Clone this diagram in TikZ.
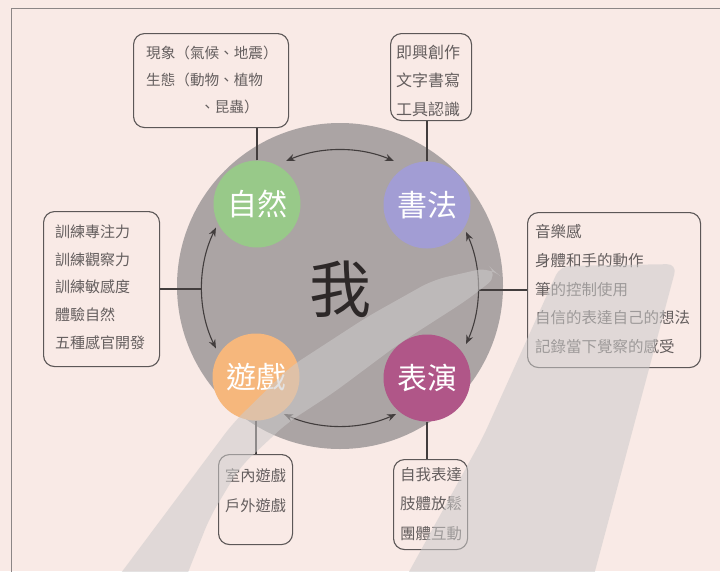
\documentclass[tikz,border=0pt]{standalone}
\usepackage{fontspec}
\newfontfamily\cjk{Noto Sans CJK TC}
\usetikzlibrary{arrows.meta}
\definecolor{bgpink}{RGB}{249,234,230}
\definecolor{biggray}{RGB}{171,164,164}
\definecolor{zrgreen}{RGB}{152,201,137}
\definecolor{sflav}{RGB}{162,157,212}
\definecolor{yxorange}{RGB}{246,183,124}
\definecolor{bymag}{RGB}{176,86,136}
\definecolor{boxline}{RGB}{92,87,87}
\definecolor{boxtext}{RGB}{100,94,94}
\definecolor{wmgray}{RGB}{205,203,203}
\definecolor{framegray}{RGB}{140,134,134}
\definecolor{darkink}{RGB}{45,40,40}
\begin{document}
\begin{tikzpicture}[x=1pt,y=1pt,
  topic/.style={circle, minimum size=87pt, inner sep=0pt, text=white, font=\cjk\fontsize{30}{30}\selectfont},
  infobox/.style={draw=boxline, line width=1.1pt, rounded corners=11pt, inner sep=0pt, anchor=north west},
  infotext/.style={anchor=north west, inner sep=0pt, align=left, text=boxtext},
  connline/.style={draw=darkink!90, line width=1.5pt},
  ringarrow/.style={draw=darkink!90, line width=1.1pt, {Stealth[length=9pt,width=7pt,inset=3pt]}-{Stealth[length=9pt,width=7pt,inset=3pt]}},
  framerule/.style={draw=framegray, line width=0.9pt},
  watermark/.style={fill=wmgray, fill opacity=0.55}
]
\useasboundingbox (0,0) rectangle (720,-571);
\fill[bgpink] (0,0) rectangle (720,-571);
\draw[framerule] (11,-575) -- (11,-8) -- (725,-8);

% central circle
\node[circle, fill=biggray, minimum size=326pt, inner sep=0pt] (me) at (340,-286) {};
\node[text=darkink, font=\cjk\fontsize{62}{62}\selectfont, inner sep=0pt] (wo) at (340,-289) {我};
\coordinate (ringc) at (340,-288);

% topic circles
\node[topic, fill=zrgreen] (zr) at (257,-204) {自然};
\node[topic, fill=sflav] (sf) at (427,-205) {書法};
\node[topic, fill=yxorange] (yx) at (256,-377) {遊戲};
\node[topic, fill=bymag] (by) at (427,-378) {表演};

% ring arrows
\draw[ringarrow] ([shift={(67:138pt)}]ringc) arc[start angle=67, end angle=113, radius=138pt];
\draw[ringarrow] ([shift={(154:138pt)}]ringc) arc[start angle=154, end angle=206, radius=138pt];
\draw[ringarrow] ([shift={(246:138pt)}]ringc) arc[start angle=246, end angle=294, radius=138pt];
\draw[ringarrow] ([shift={(-24:138pt)}]ringc) arc[start angle=-24, end angle=24, radius=138pt];
\coordinate (lc) at ([shift={(180:138pt)}]ringc);
\coordinate (rc) at ([shift={(0:138pt)}]ringc);

% boxes
\node[infobox, minimum width=155pt, minimum height=94pt] (b1) at (133,-33) {};
\node[infobox, minimum width=81pt, minimum height=87pt] (b2) at (390,-33) {};
\node[infobox, minimum width=116pt, minimum height=155pt] (b3) at (43,-211) {};
\node[infobox, minimum width=173pt, minimum height=155pt] (b4) at (527,-212) {};
\node[infobox, minimum width=74pt, minimum height=90pt] (b5) at (218,-454) {};
\node[infobox, minimum width=74pt, minimum height=90pt] (b6) at (393,-459) {};

% texts
\node[infotext, font=\cjk\fontsize{14.6}{27}\selectfont] (t1) at (146,-46) {現象（氣候、地震）\\生態（動物、植物\\\hspace*{54pt}、昆蟲）};
\node[infotext, font=\cjk\fontsize{16}{28.5}\selectfont] (t2) at (396,-44.5) {即興創作\\文字書寫\\工具認識};
\node[infotext, font=\cjk\fontsize{15}{27.75}\selectfont] (t3) at (55,-224.5) {訓練專注力\\訓練觀察力\\訓練敏感度\\體驗自然\\五種感官開發};
\node[infotext, font=\cjk\fontsize{15.5}{28.7}\selectfont] (t4) at (535,-224.5) {音樂感\\身體和手的動作\\筆的控制使用\\自信的表達自己的想法\\記錄當下覺察的感受};
\node[infotext, font=\cjk\fontsize{15.2}{30}\selectfont] (t5) at (225,-468) {室內遊戲\\戶外遊戲};
\node[infotext, font=\cjk\fontsize{15.5}{29.5}\selectfont] (t6) at (400,-467) {自我表達\\肢體放鬆\\團體互動};

% connectors
\draw[connline] (zr.north) -- (zr.north |- b1.south);
\draw[connline] (sf.north) -- (sf.north |- b2.south);
\draw[connline] (yx.south) -- (yx.south |- b5.north);
\draw[connline] (by.south) -- (by.south |- b6.north);
\draw[connline] (b3.east) -- (b3.east -| lc);
\draw[connline] (rc |- b4.west) -- (b4.west);

% translucent brush-stroke watermark
\fill[watermark, rounded corners=14pt] (112,-585) -- (183,-490) -- (233,-423) -- (290,-367) -- (367,-317) -- (433,-280) -- (490,-267) -- (499,-275) -- (467,-300) -- (400,-343) -- (333,-393) -- (287,-423) -- (240,-467) -- (210,-517) -- (183,-585) -- cycle;
\fill[watermark, rounded corners=10pt] (399,-590) -- (483,-437) -- (560,-266) -- (677,-264) -- (590,-590) -- cycle;
\end{tikzpicture}
\end{document}
